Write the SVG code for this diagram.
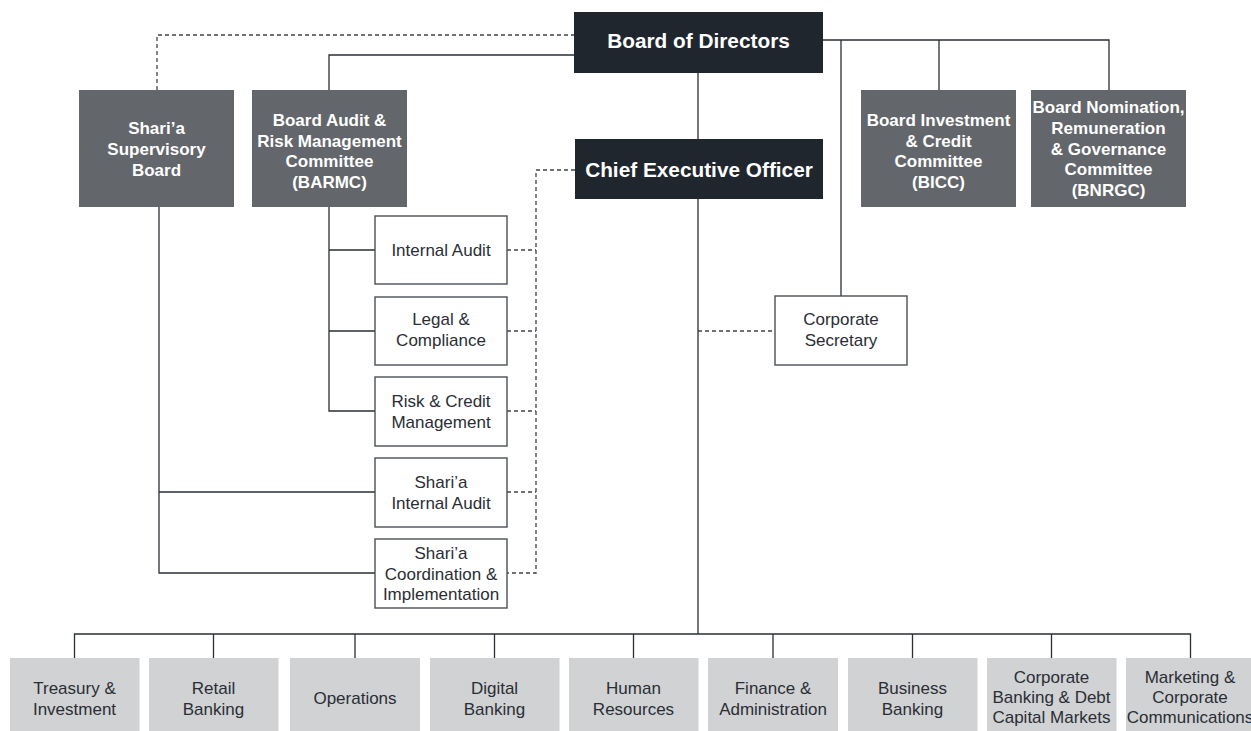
<svg xmlns="http://www.w3.org/2000/svg" width="1251" height="731" viewBox="0 0 1251 731">
<style>
.dark{fill:#20262d}
.mid{fill:#63666b}
.light{fill:#d1d2d4}
.white{fill:#ffffff;stroke:#4b5057;stroke-width:1.4}
.t{font-family:"Liberation Sans",Arial,sans-serif;text-anchor:middle}
.tw{fill:#ffffff;font-weight:bold}
.big{font-size:20.8px}
.bd{font-size:17px}
.tr{fill:#2a2e34;font-size:17px}
.ln{fill:none;stroke:#2a2f35;stroke-width:1.3}
.dl{fill:none;stroke:#3f444a;stroke-width:1.3;stroke-dasharray:4 3}
</style>
<rect width="1251" height="731" fill="#ffffff"/>
<g id="connectors">
<path class="dl" d="M157 90V35H574"/>
<path class="ln" d="M329 90V55H574"/>
<path class="ln" d="M823 40H1109V90M939 40V90M841 40V296"/>
<path class="ln" d="M698 73V139M698 199V634"/>
<path class="ln" d="M329 207V411H375M329 250H375M329 331H375"/>
<path class="ln" d="M159 207V573H375M159 492H375"/>
<path class="dl" d="M575 170H536V573H507M507 250H536M507 331H536M507 411H536M507 492H536"/>
<path class="dl" d="M698 331H775"/>
<path class="ln" d="M74.5 658V634H1190.5V658M213.5 634V658M355 634V658M494.5 634V658M633.5 634V658M773 634V658M912.5 634V658M1051.5 634V658"/>
</g>
<g id="board"><rect class="dark" x="574" y="12" width="249" height="61"/><text class="t tw big" x="698.5" y="48">Board of Directors</text></g>
<g id="ceo"><rect class="dark" x="575" y="139" width="248" height="60"/><text class="t tw big" x="699" y="177">Chief Executive Officer</text></g>
<g id="shariah-board"><rect class="mid" x="79" y="90" width="155" height="117"/><text class="t tw bd" x="156.5" y="134">Shari’a<tspan x="156.5" dy="21">Supervisory</tspan><tspan x="156.5" dy="21">Board</tspan></text></g>
<g id="barmc"><rect class="mid" x="252" y="90" width="155" height="117"/><text class="t tw bd" x="329.5" y="126">Board Audit &amp;<tspan x="329.5" dy="20.7">Risk Management</tspan><tspan x="329.5" dy="20.7">Committee</tspan><tspan x="329.5" dy="20.7">(BARMC)</tspan></text></g>
<g id="bicc"><rect class="mid" x="861" y="90" width="155" height="117"/><text class="t tw bd" x="938.5" y="126">Board Investment<tspan x="938.5" dy="20.7">&amp; Credit</tspan><tspan x="938.5" dy="20.7">Committee</tspan><tspan x="938.5" dy="20.7">(BICC)</tspan></text></g>
<g id="bnrgc"><rect class="mid" x="1031" y="90" width="155" height="117"/><text class="t tw bd" x="1108.5" y="113">Board Nomination,<tspan x="1108.5" dy="20.8">Remuneration</tspan><tspan x="1108.5" dy="20.8">&amp; Governance</tspan><tspan x="1108.5" dy="20.8">Committee</tspan><tspan x="1108.5" dy="20.8">(BNRGC)</tspan></text></g>
<g id="internal-audit"><rect class="white" x="375" y="216" width="132" height="68"/><text class="t tr" x="441" y="256">Internal Audit</text></g>
<g id="legal"><rect class="white" x="375" y="297" width="132" height="68"/><text class="t tr" x="441" y="325">Legal &amp;<tspan x="441" dy="21">Compliance</tspan></text></g>
<g id="risk"><rect class="white" x="375" y="377" width="132" height="69"/><text class="t tr" x="441" y="407">Risk &amp; Credit<tspan x="441" dy="21">Management</tspan></text></g>
<g id="shariah-audit"><rect class="white" x="375" y="458" width="132" height="69"/><text class="t tr" x="441" y="488">Shari’a<tspan x="441" dy="21">Internal Audit</tspan></text></g>
<g id="shariah-coord"><rect class="white" x="375" y="539" width="132" height="69"/><text class="t tr" x="441" y="559">Shari’a<tspan x="441" dy="20.5">Coordination &amp;</tspan><tspan x="441" dy="20.5">Implementation</tspan></text></g>
<g id="corp-sec"><rect class="white" x="775" y="296" width="132" height="69"/><text class="t tr" x="841" y="325">Corporate<tspan x="841" dy="20.5">Secretary</tspan></text></g>
<g id="treasury"><rect class="light" x="10" y="658" width="129.5" height="75"/><text class="t tr" x="74.5" y="694">Treasury &amp;<tspan x="74.5" dy="21">Investment</tspan></text></g>
<g id="retail"><rect class="light" x="149" y="658" width="129.5" height="75"/><text class="t tr" x="213.5" y="694">Retail<tspan x="213.5" dy="21">Banking</tspan></text></g>
<g id="operations"><rect class="light" x="290" y="658" width="130" height="75"/><text class="t tr" x="355" y="704">Operations</text></g>
<g id="digital"><rect class="light" x="430" y="658" width="129.5" height="75"/><text class="t tr" x="494.5" y="694">Digital<tspan x="494.5" dy="21">Banking</tspan></text></g>
<g id="hr"><rect class="light" x="569" y="658" width="129.5" height="75"/><text class="t tr" x="633.5" y="694">Human<tspan x="633.5" dy="21">Resources</tspan></text></g>
<g id="finance"><rect class="light" x="708" y="658" width="130" height="75"/><text class="t tr" x="773" y="694">Finance &amp;<tspan x="773" dy="21">Administration</tspan></text></g>
<g id="business"><rect class="light" x="848" y="658" width="129.5" height="75"/><text class="t tr" x="912.5" y="694">Business<tspan x="912.5" dy="21">Banking</tspan></text></g>
<g id="corporate"><rect class="light" x="987" y="658" width="129.5" height="75"/><text class="t tr" x="1051.5" y="683">Corporate<tspan x="1051.5" dy="20">Banking &amp; Debt</tspan><tspan x="1051.5" dy="20">Capital Markets</tspan></text></g>
<g id="marketing"><rect class="light" x="1126" y="658" width="129" height="75"/><text class="t tr" x="1190" y="683">Marketing &amp;<tspan x="1190" dy="20">Corporate</tspan><tspan x="1190" dy="20">Communications</tspan></text></g>
</svg>
